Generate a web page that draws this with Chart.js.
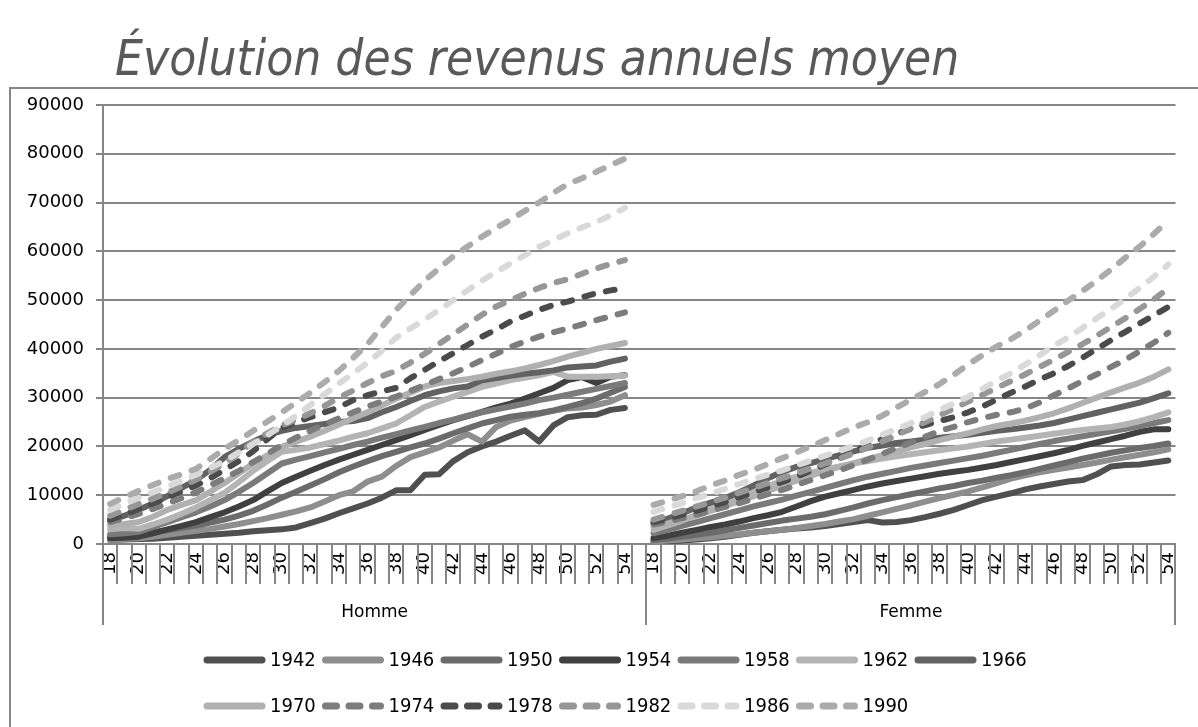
<!DOCTYPE html>
<html><head><meta charset="utf-8">
<script src="https://cdn.jsdelivr.net/npm/chart.js@4.4.1/dist/chart.umd.min.js"></script>
<style>html,body{margin:0;padding:0;background:#fff;}#wrap{width:1198px;height:727px;}</style>
</head><body><div id="wrap"><canvas id="c" width="1198" height="727"></canvas></div>
<script>
const titleText = 'Évolution des revenus annuels moyen';
const ages = [18,19,20,21,22,23,24,25,26,27,28,29,30,31,32,33,34,35,36,37,38,39,40,41,42,43,44,45,46,47,48,49,50,51,52,53,54];
const groups = ['Homme', 'Femme'];
const cohorts = ['1942','1946','1950','1954','1958','1962','1966','1970','1974','1978','1982','1986','1990'];
const yTicks = [0,10000,20000,30000,40000,50000,60000,70000,80000,90000];

// Homme
const h1942 = [800,900,1000,1100,1300,1500,1700,1900,2100,2300,2600,2800,3000,3400,4300,5200,6300,7300,8300,9500,11000,11000,14200,14300,17000,18800,20000,21000,22200,23300,21000,24300,26000,26400,26500,27500,27900];
const h1946 = [800,1000,1200,1500,1900,2300,2700,3100,3600,4100,4700,5300,6000,6700,7500,8700,10000,10800,12800,13800,16000,17800,18800,19800,21200,22500,21000,24000,25300,26000,26700,27300,27800,28000,28500,29200,30500];
const h1950 = [1500,1600,2000,2400,2800,3300,3800,4400,5000,5800,6800,8100,9500,10700,12000,13300,14700,15900,17000,18000,18900,19800,20600,21600,22700,23700,24700,25400,26100,26500,26800,27400,28100,28900,29800,31000,32200];
const h1954 = [1200,1300,1500,2200,3000,3700,4500,5500,6500,7700,9000,10800,12500,13800,15000,16200,17300,18300,19300,20300,21300,22300,23400,24400,25400,26200,27100,28000,28800,29800,30900,32000,33600,34200,33000,34300,34600];
const h1958 = [2000,2200,2500,3500,4500,5500,6500,7700,9000,10700,12500,14500,16500,17300,18000,18800,19500,20300,21000,21800,22500,23300,24000,24800,25500,26300,27000,27600,28200,28800,29500,30000,30600,31200,31800,32400,33000];
const h1962 = [3000,3300,3100,4000,5000,6200,7500,9000,10500,12700,15000,17000,18900,19300,19800,20500,21200,22000,22700,23700,24700,26400,28100,29200,30200,31200,32200,32900,33600,34100,34600,35300,34300,34300,34300,34400,34500];
const h1966 = [4800,5800,7000,8300,9800,11500,13100,15200,17800,19500,21000,22300,23200,23800,24200,24600,25000,25200,25800,27000,28100,29300,30500,31300,31900,32300,33500,34000,34500,34900,35200,35600,36200,36400,36600,37400,38000];
const h1970 = [3800,4100,4500,5600,7000,8000,9000,10700,12500,14500,16500,18200,19900,21000,22000,23200,24500,25800,27000,28400,29800,31000,32300,33000,33400,33800,34300,34900,35400,36000,36700,37500,38400,39200,40000,40600,41200];
const h1974 = [4500,5300,6200,7200,8300,9400,10600,12000,13500,15000,16800,18500,20300,21800,23200,24500,25800,27000,28200,29200,30200,31400,32600,33800,35000,36300,37700,39000,40400,41500,42500,43400,44200,45000,45900,46700,47500];
const h1978 = [5000,6000,7200,8300,9500,10800,12000,13500,15200,17000,19000,21500,23800,25000,26000,27000,28000,29500,30500,31300,32000,34000,35700,37500,39100,40800,42500,44000,45600,46800,48000,49000,49700,50600,51400,52000,52500];
const h1982 = [5800,7000,8200,9300,10500,11800,13200,14800,16500,18600,21000,22700,24300,25500,26800,28300,30000,31500,33000,34400,35500,37200,39000,41000,43000,45000,47000,48700,50000,51300,52500,53500,54300,55400,56500,57400,58200];
const h1986 = [7000,8200,9500,10600,11800,13000,14200,15600,17000,18800,20500,22300,24200,26300,28500,30700,32900,35000,37200,39600,42300,44200,46000,48000,50000,52000,54000,55800,57500,59200,60900,62300,63700,64900,66000,67400,68900];
const h1990 = [8200,9600,10900,12100,13300,14300,15400,17400,19500,21300,23200,25100,27000,29000,31000,33200,35500,38200,41000,44500,48000,51000,54000,56500,59000,61000,63000,64800,66500,68300,70000,72000,73800,75000,76300,77700,79000];

// Femme
const f1942 = [400,500,700,900,1200,1500,1900,2300,2600,2900,3200,3400,3700,4100,4500,4900,4400,4500,4900,5500,6200,7000,8000,9000,9700,10400,11200,11800,12300,12800,13100,14300,15900,16200,16300,16700,17100];
const f1946 = [500,700,900,1200,1400,1700,2000,2300,2600,2900,3300,3700,4100,4600,5100,5800,6500,7200,7900,8700,9400,10100,10800,11600,12500,13400,14100,14700,15200,15700,16200,16700,17300,17800,18300,18800,19400];
const f1950 = [800,1100,1500,1900,2300,2800,3300,3800,4300,4800,5200,5600,6100,6800,7500,8300,9000,9600,10200,10800,11400,11900,12500,13000,13600,14100,14700,15400,16100,16800,17500,18100,18700,19200,19700,20100,20600];
const f1954 = [1200,1700,2300,2900,3500,4000,4600,5300,5900,6600,7700,8800,9700,10400,11100,11800,12400,12900,13400,13900,14400,14800,15200,15700,16200,16800,17400,18000,18600,19300,20100,20800,21500,22200,23000,23500,23500];
const f1958 = [2200,2900,3700,4500,5300,6100,6900,7700,8400,9100,9900,10700,11500,12300,13100,13800,14400,15000,15600,16100,16600,17100,17600,18100,18700,19300,19900,20500,21100,21600,22100,22600,23100,23600,24200,24800,25400];
const f1962 = [2900,3800,4800,6000,7200,8400,9600,10800,11900,12900,13800,14600,15300,15900,16500,17000,17500,18000,18400,18800,19200,19600,20000,20500,21000,21400,21800,22200,22600,23000,23400,23700,24000,24500,25200,26000,27000];
const f1966 = [4200,5200,6300,7500,8500,9400,10600,12000,13500,14800,15800,16600,17400,18200,19000,19700,20200,20700,21000,21400,21800,22100,22400,22800,23200,23500,23900,24300,24800,25500,26200,26900,27600,28300,29000,29900,30900];
const f1970 = [3500,4200,5000,5800,6800,7800,8800,9800,10900,12000,13000,14000,15000,15800,16600,17400,18200,19000,19800,20500,21300,22000,22700,23500,24200,24700,25300,26000,26800,27800,28900,30000,31100,32100,33100,34300,35800];
const f1974 = [4000,4600,5300,6000,6800,7600,8400,9300,10200,11100,12100,13100,14100,15100,16200,17300,18500,19700,20800,22000,23200,24000,25000,25800,26500,27000,27800,29000,30500,31900,33400,34800,36300,37800,39500,41300,43300];
const f1978 = [4500,5200,6000,6800,7700,8600,9600,10600,11600,12700,13800,15000,16300,17600,19000,20400,21500,22600,23600,24400,25200,26000,27000,28200,29600,31000,32300,33700,35000,36500,38200,40000,41800,43500,45200,46900,48600];
const f1982 = [5000,5900,6800,7700,8600,9500,10500,11500,12500,13500,14500,15500,16500,17500,18600,19800,21000,22300,23700,25000,26400,27800,29200,30600,32000,33400,34800,36300,37800,39400,41000,42700,44500,46300,48200,50200,52400];
const f1986 = [6600,7500,8400,9400,10300,11300,12300,13300,14200,15100,16100,17100,18100,19100,20100,21200,22400,23600,24800,26000,27500,28800,30200,31800,33500,35000,36800,38700,40600,42400,44300,46300,48200,50300,52500,54800,57300];
const f1990 = [8000,8900,9800,10800,12000,13000,14200,15200,16400,17600,18800,20000,21300,22600,23900,25000,26300,28000,29600,31200,32800,34700,36800,38700,40500,42000,43800,45800,47800,49900,51900,54000,56300,58700,61000,63600,66400];

const homme = [h1942,h1946,h1950,h1954,h1958,h1962,h1966,h1970,h1974,h1978,h1982,h1986,h1990];
const femme = [f1942,f1946,f1950,f1954,f1958,f1962,f1966,f1970,f1974,f1978,f1982,f1986,f1990];

// styles
const colors = ['#505050','#8e8e8e','#6b6b6b','#404040','#7a7a7a','#b4b4b4','#626262','#b0b0b0','#7c7c7c','#4b4b4b','#979797','#d9d9d9','#ababab'];
const dashed = [false,false,false,false,false,false,false,false,true,true,true,true,true];

const labels = ages.map(String).concat([''], ages.map(String));
const groupStart = ages.length + 1; // index of first Femme category

const datasets = cohorts.map((c, i) => ({
  label: c,
  data: homme[i].concat([null], femme[i]),
  borderColor: colors[i],
  backgroundColor: colors[i],
  borderWidth: 6,
  borderDash: dashed[i] ? [9, 13] : [],
  borderCapStyle: 'round',
  borderJoinStyle: 'round',
  pointRadius: 0,
  tension: 0,
  spanGaps: false,
  fill: false,
  order: cohorts.length - 1 - i
}));

const GRID = '#868686';
const AXISFONT = '"DejaVu Sans", sans-serif';

const deco = {
  id: 'deco',
  beforeDraw(chart) {
    const ctx = chart.ctx;
    ctx.save();
    ctx.fillStyle = '#fff';
    ctx.fillRect(0, 0, chart.width, chart.height);
    ctx.restore();
  },
  afterDraw(chart) {
    const ctx = chart.ctx;
    ctx.save();
    // outer frame
    ctx.strokeStyle = GRID;
    ctx.lineWidth = 2;
    ctx.strokeRect(10, 88, 1210, 720);
    // title
    let size = 50;
    ctx.font = 'italic 300 ' + size + 'px "DejaVu Sans Condensed", "DejaVu Sans", sans-serif';
    const tw = ctx.measureText(titleText).width;
    size = size * 845 / tw;
    ctx.font = 'italic 300 ' + size.toFixed(1) + 'px "DejaVu Sans Condensed", "DejaVu Sans", sans-serif';
    ctx.fillStyle = '#595959';
    ctx.textAlign = 'left';
    ctx.textBaseline = 'alphabetic';
    ctx.fillText(titleText, 115, 75);

    // category tick marks and group separators
    const xs = chart.scales.x;
    const n = labels.length;
    const w = (xs.right - xs.left) / n;
    ctx.strokeStyle = GRID;
    ctx.lineWidth = 2;
    ctx.beginPath();
    for (let k = 0; k <= n; k++) {
      const x = Math.round(xs.left + k * w);
      const long = (k === 0 || k === groupStart || k === n);
      ctx.moveTo(x, xs.top);
      ctx.lineTo(x, long ? 625 : 584);
    }
    ctx.stroke();
    // group labels
    ctx.fillStyle = '#000';
    ctx.font = '17px ' + AXISFONT;
    ctx.textAlign = 'center';
    ctx.textBaseline = 'middle';
    const bounds = [0, groupStart, n];
    groups.forEach((g, gi) => {
      const x0 = xs.left + bounds[gi] * w, x1 = xs.left + bounds[gi + 1] * w;
      ctx.fillText(g, (x0 + x1) / 2, 613);
    });

    // legend
    ctx.font = '20px "DejaVu Sans Condensed", "DejaVu Sans", sans-serif';
    ctx.textAlign = 'left';
    ctx.textBaseline = 'middle';
    chart.data.datasets.forEach((ds, i) => {
      const row = i < 7 ? 0 : 1;
      const col = i < 7 ? i : i - 7;
      const x0 = 203 + col * 118.5;
      const y = row === 0 ? 660 : 706;
      ctx.save();
      ctx.strokeStyle = ds.borderColor;
      ctx.lineWidth = 7;
      ctx.lineCap = 'round';
      ctx.setLineDash(dashed[i] ? [11, 12.5] : []);
      ctx.beginPath();
      ctx.moveTo(x0 + 4, y);
      ctx.lineTo(x0 + 59, y);
      ctx.stroke();
      ctx.restore();
      ctx.fillStyle = '#000';
      ctx.fillText(ds.label, x0 + 67, y + 1);
    });
    ctx.restore();
  }
};

new Chart(document.getElementById('c'), {
  type: 'line',
  data: { labels, datasets },
  options: {
    responsive: false,
    devicePixelRatio: 1,
    animation: false,
    layout: { padding: { top: 105, right: 10, left: 0, bottom: 0 } },
    plugins: { legend: { display: false }, title: { display: false }, tooltip: { enabled: false } },
    scales: {
      x: {
        type: 'category',
        offset: true,
        grid: { display: false, drawTicks: false },
        border: { display: true, color: GRID, width: 2 },
        ticks: {
          autoSkip: false, maxRotation: 90, minRotation: 90, padding: 8,
          color: '#000', font: { family: AXISFONT, size: 18 },
          callback: (v, i) => (i % 2 === 0 ? labels[i] : '')
        },
        afterFit(scale) { scale.height = 183; }
      },
      y: {
        min: 0, max: 90000,
        afterBuildTicks(scale) { scale.ticks = yTicks.map(v => ({ value: v })); },
        grid: { color: GRID, lineWidth: 2, drawTicks: true, tickLength: 7 },
        border: { display: true, color: GRID, width: 2 },
        ticks: { color: '#000', padding: 12, font: { family: AXISFONT, size: 18 }, callback: v => String(v) },
        afterFit(scale) { scale.width = 103; }
      }
    }
  },
  plugins: [deco]
});
</script>
</body></html>
